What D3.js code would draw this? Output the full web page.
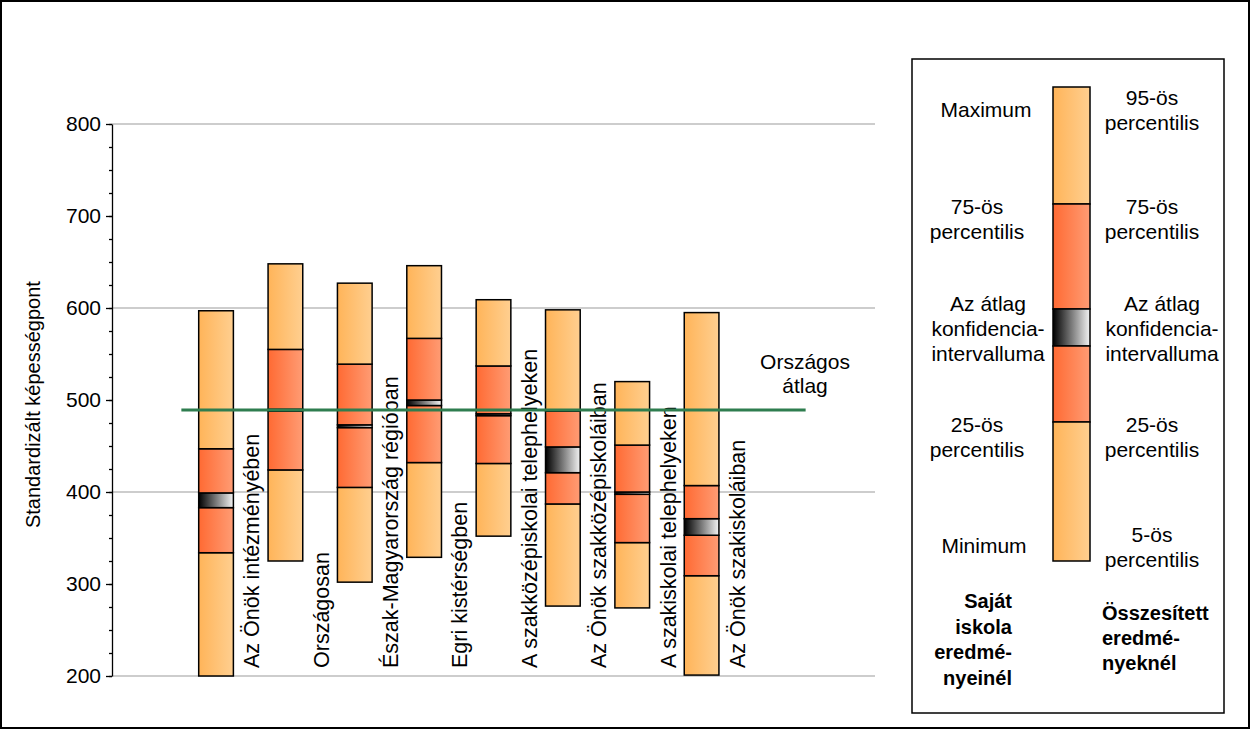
<!DOCTYPE html>
<html>
<head>
<meta charset="utf-8">
<script src="https://cdn.jsdelivr.net/npm/d3@7"></script>
<style>
  html, body { margin: 0; padding: 0; background: #fff; }
  svg { display: block; font-family: "Liberation Sans", Arial, sans-serif; }
</style>
</head>
<body>
<svg id="chart" width="1250" height="729"></svg>
<script>
// ---------- data ----------
const categories = [
  "Az Önök intézményében",
  "Országosan",
  "Észak-Magyarország régióban",
  "Egri kistérségben",
  "A szakközépiskolai telephelyeken",
  "Az Önök szakközépiskoláiban",
  "A szakiskolai telephelyeken",
  "Az Önök szakiskoláiban"
];
const lowVals  = [200, 325, 302, 329, 352, 276, 274, 201];   // minimum / 5th percentile
const p25Vals  = [334, 424, 405, 432, 431, 387, 345, 309];
const ciLow    = [383, 488, 470, 494, 483, 421, 397.5, 353];
const ciHigh   = [399, 490, 473, 500, 485, 449, 400, 371];
const p75Vals  = [447, 555, 539, 567, 537, 488, 451, 407];
const highVals = [597, 648, 627, 646, 609, 598, 520, 595];   // maximum / 95th percentile
const nationalAvg = 489;
const nationalLabel = ["Országos", "átlag"];
const yTicks = [200, 300, 400, 500, 600, 700, 800];
const yMinorTicks = d3.range(200, 801, 25);
const yGridTicks = [200, 400, 600, 800];
const yTitle = "Standardizált képességpont";

const legendLeft = [
  {lines: ["Maximum"], frac: 0.05},
  {lines: ["75-ös", "percentilis"], frac: 0.25},
  {lines: ["Az átlag", "konfidencia-", "intervalluma"], frac: 0.5},
  {lines: ["25-ös", "percentilis"], frac: 0.75},
  {lines: ["Minimum"], frac: 0.95}
];
const legendRight = [
  {lines: ["95-ös", "percentilis"]},
  {lines: ["75-ös", "percentilis"]},
  {lines: ["Az átlag", "konfidencia-", "intervalluma"]},
  {lines: ["25-ös", "percentilis"]},
  {lines: ["5-ös", "percentilis"]}
];
const legendLeftTitle = ["Saját", "iskola", "eredmé-", "nyeinél"];
const legendRightTitle = ["Összesített", "eredmé-", "nyeknél"];

// ---------- setup ----------
const svg = d3.select("#chart");
const W = 1250, H = 729;
const defs = svg.append("defs");
function grad(id, c1, c2) {
  const g = defs.append("linearGradient").attr("id", id)
    .attr("x1", "0%").attr("x2", "100%").attr("y1", "0%").attr("y2", "0%");
  g.append("stop").attr("offset", "0%").attr("stop-color", c1);
  g.append("stop").attr("offset", "100%").attr("stop-color", c2);
}
grad("gOrange", "#FFB459", "#FFCF90");
grad("gRed", "#FF6A33", "#FF9C74");
grad("gCI", "#000000", "#F4F4F4");

svg.append("rect").attr("x", 1).attr("y", 1).attr("width", W - 2).attr("height", H - 2)
  .attr("fill", "#fff").attr("stroke", "#000").attr("stroke-width", 2);

const plotLeft = 112, plotRight = 875, plotTop = 124, plotBottom = 676;
const y = d3.scaleLinear().domain([200, 800]).range([plotBottom, plotTop]);
const x = d3.scaleBand().domain(d3.range(11)).range([plotLeft, plotRight]).padding(0);
const step = x.step();
const barW = step * 0.5;

// gridlines
svg.append("g").selectAll("line").data(yGridTicks).join("line")
  .attr("x1", plotLeft).attr("x2", plotRight)
  .attr("y1", d => y(d)).attr("y2", d => y(d))
  .attr("stroke", "#BDBDBD").attr("stroke-width", 1.5);

// axis
const axisG = svg.append("g").attr("transform", `translate(${plotLeft},0)`);
axisG.call(d3.axisLeft(y).tickValues(yMinorTicks).tickSize(3).tickFormat("").tickSizeOuter(0));
const axisMajor = svg.append("g").attr("transform", `translate(${plotLeft},0)`)
  .call(d3.axisLeft(y).tickValues(yTicks).tickSize(6).tickPadding(5).tickSizeOuter(0));
axisMajor.select(".domain").remove();
svg.selectAll(".tick line").attr("stroke", "#000").attr("stroke-width", 1.3);
axisG.select(".domain").attr("stroke", "#000").attr("stroke-width", 1.3);
axisMajor.selectAll("text").attr("font-size", 21).attr("fill", "#000")
  .attr("font-family", "Liberation Sans, Arial, sans-serif");

// y title
svg.append("text")
  .attr("transform", `translate(40,${y(495)}) rotate(-90)`)
  .attr("text-anchor", "middle").attr("font-size", 20).attr("fill", "#000")
  .text(yTitle);

// bars
const barsG = svg.append("g");
categories.forEach((c, i) => {
  const bx = x(i + 1) + (step - barW) / 2;
  const segs = [
    [lowVals[i], p25Vals[i], "url(#gOrange)"],
    [p25Vals[i], ciLow[i], "url(#gRed)"],
    [ciLow[i], ciHigh[i], "url(#gCI)"],
    [ciHigh[i], p75Vals[i], "url(#gRed)"],
    [p75Vals[i], highVals[i], "url(#gOrange)"]
  ];
  barsG.append("g").selectAll("rect").data(segs).join("rect")
    .attr("x", bx).attr("width", barW)
    .attr("y", d => y(d[1])).attr("height", d => y(d[0]) - y(d[1]))
    .attr("fill", d => d[2]).attr("stroke", "#000").attr("stroke-width", 1.5);
  // category label
  svg.append("text")
    .attr("transform", `translate(${bx + barW + 26},${plotBottom - 8}) rotate(-90)`)
    .attr("font-size", 21.5).attr("fill", "#000").text(c);
});

// national average line
svg.append("line")
  .attr("x1", x(1)).attr("x2", x(10))
  .attr("y1", y(nationalAvg)).attr("y2", y(nationalAvg))
  .attr("stroke", "#2E7D4F").attr("stroke-width", 3);
svg.append("text").attr("text-anchor", "middle").attr("font-size", 21).attr("fill", "#000")
  .selectAll("tspan").data(nationalLabel).join("tspan")
  .attr("x", 805).attr("y", (d, k) => 369 + k * 24).text(d => d);

// ---------- legend ----------
svg.append("rect").attr("x", 912).attr("y", 59).attr("width", 312).attr("height", 654)
  .attr("fill", "#fff").attr("stroke", "#000").attr("stroke-width", 1.5);

const lb = {x: 1053, w: 37};
const legendSegs = [
  [87, 204, "url(#gOrange)"],
  [204, 309, "url(#gRed)"],
  [309, 346, "url(#gCI)"],
  [346, 422, "url(#gRed)"],
  [422, 561, "url(#gOrange)"]
];
svg.append("g").selectAll("rect").data(legendSegs).join("rect")
  .attr("x", lb.x).attr("width", lb.w)
  .attr("y", d => d[0]).attr("height", d => d[1] - d[0])
  .attr("fill", d => d[2]).attr("stroke", "#000").attr("stroke-width", 1.5);

const leftPos = [[986, 117], [977, 214], [988, 311], [977, 432], [984, 553]];
const rightPos = [[1152, 105], [1152, 214], [1162, 311], [1152, 432], [1152, 542]];
function block(items, pos) {
  items.forEach((it, k) => {
    svg.append("text").attr("text-anchor", "middle").attr("font-size", 21).attr("fill", "#000")
      .selectAll("tspan").data(it.lines).join("tspan")
      .attr("x", pos[k][0]).attr("y", (d, j) => pos[k][1] + j * 25).text(d => d);
  });
}
block(legendLeft, leftPos);
block(legendRight, rightPos);

svg.append("text").attr("text-anchor", "end").attr("font-size", 20).attr("font-weight", "bold")
  .attr("fill", "#000")
  .selectAll("tspan").data(legendLeftTitle).join("tspan")
  .attr("x", 1012).attr("y", (d, j) => 608 + j * 25.5).text(d => d);
svg.append("text").attr("text-anchor", "start").attr("font-size", 20).attr("font-weight", "bold")
  .attr("fill", "#000")
  .selectAll("tspan").data(legendRightTitle).join("tspan")
  .attr("x", 1102).attr("y", (d, j) => 620 + j * 25).text(d => d);
</script>
</body>
</html>
